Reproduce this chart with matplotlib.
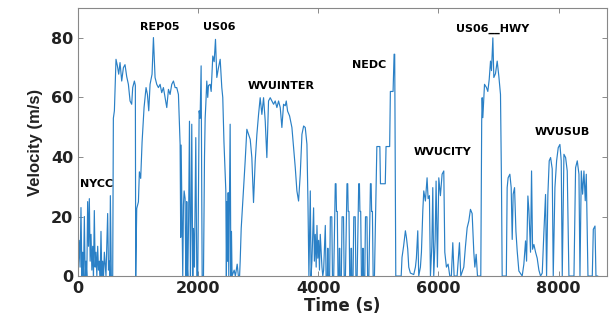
import numpy as np
import matplotlib.pyplot as plt

# drive cycle traces, (time s, velocity) vertices per cycle
nycc_t = [0, 20, 35, 50, 65, 78, 92, 106, 120, 133, 147, 161, 175, 189, 203, 217, 231, 245, 258,
          272, 286, 300, 314, 328, 342, 356, 370, 383, 397, 411, 425, 439, 466, 494, 508, 522, 530,
          539, 555, 578]
nycc_v = [0, 12, 3, 23, 0, 8, 0, 20, 0, 5, 0, 25, 10, 26, 5, 14, 2, 10, 0,
          22, 3, 8, 0, 10, 2, 5, 0, 15, 0, 5, 0, 8, 0, 21, 2, 5, 0,
          27, 0, 0]

rep05_t = [589, 606, 633, 656, 678, 700, 728, 756, 783, 811, 839, 867, 894, 911, 939, 955, 961,
           978, 1006, 1022, 1044, 1067, 1100, 1133, 1156, 1178, 1200, 1233, 1256, 1283, 1311, 1339,
           1367, 1394, 1422, 1450, 1478, 1506, 1533, 1561, 1589, 1617, 1644, 1672, 1700, 1710, 1717,
           1744, 1756, 1767, 1783, 1792, 1800, 1811, 1820, 1828, 1842, 1856, 1872, 1883, 1894, 1911,
           1922, 1939, 1961, 1978, 1994, 2017, 2033, 2050, 2067, 2089]
rep05_v = [53, 55.5, 72.8, 70.6, 67.8, 71.7, 65.5, 70, 71, 67, 64.4, 58.8, 57.7, 63.3, 65.5, 64, 0,
           22.7, 24.9, 35, 32.8, 45, 56.6, 63.3, 61, 55.5, 64.4, 67.8, 80.1, 66.7, 64.4, 63.3,
           64.4, 61.6, 63.3, 59.9, 56.6, 62.7, 61, 64.4, 65.5, 63.3, 63.3, 61, 44.3, 13, 44,
           0, 24, 28.6, 26, 6, 0, 25, 3, 0, 20, 52, 0, 18, 51, 0,
           16, 3, 46.5, 0, 0, 55.5, 53, 70.6, 0, 0]

us06_t = [2106, 2117, 2128, 2144, 2160, 2172, 2200, 2217, 2244, 2267, 2289, 2311, 2339, 2367,
          2394, 2410, 2430, 2461, 2470, 2480, 2490, 2500, 2510, 2520, 2533, 2545, 2555, 2565,
          2600, 2620, 2650, 2670, 2690, 2700, 2717, 2744, 2783]
us06_v = [40, 53, 57.7, 65.5, 60, 64, 64.4, 62, 73.9, 72, 79.5, 66.7, 70, 72.8,
          63.3, 60, 45, 28.6, 0, 25, 5, 28, 0, 22, 51, 0, 15, 0,
          2, 0, 4, 0, 0, 5, 16, 25, 38.6]

wvuinter_t = [2811, 2839, 2867, 2894, 2922, 2950, 2978, 3006, 3033, 3061, 3089, 3117, 3144, 3172,
              3200, 3228, 3256, 3283, 3311, 3339, 3367, 3394, 3422, 3450, 3467, 3489, 3522, 3561,
              3589, 3617, 3644, 3672, 3700, 3728, 3756, 3783, 3811, 3828, 3844, 3867, 3880, 3894,
              3922, 3935, 3950, 3965, 3978, 3992, 4006, 4020, 4033, 4061, 4075, 4089, 4117, 4130,
              4151]
wvuinter_v = [49.3, 47.6, 45.9, 39.8, 24.7, 38.6, 47.6, 54.3, 59.9, 54.3, 59.9, 52, 39.8, 58.8,
              59.9, 58.8, 57.7, 58.8, 56.6, 58.8, 56.6, 49.9, 57.7, 57.2, 58.8, 55.4, 53.8, 49.9,
              43.2, 36.4, 28.6, 25.2, 34.2, 47.6, 50.4, 49.9, 44.3, 25, 0, 28.6, 0, 5,
              22.9, 5, 14, 3, 17, 6, 12, 2, 14, 3, 0, 2, 17, 0,
              0]

nedc_t = [4155, 4163, 4168, 4189, 4201, 4225, 4236, 4257, 4283, 4295, 4303, 4316, 4328,
          4346, 4350, 4358, 4363, 4384, 4396, 4420, 4431, 4452, 4478, 4490, 4498, 4511, 4523,
          4541, 4545, 4553, 4558, 4579, 4591, 4615, 4626, 4647, 4673, 4685, 4693, 4706, 4718,
          4736, 4740, 4748, 4753, 4774, 4786, 4810, 4821, 4842, 4868, 4880, 4888, 4901, 4913,
          4935, 4975, 5025, 5035, 5115, 5128, 5188, 5200, 5245, 5262, 5272, 5290]
nedc_v = [9.3, 9.3, 0, 0, 19.9, 19.9, 0, 0, 31, 31, 21.7, 21.7, 0,
          0, 9.3, 9.3, 0, 0, 19.9, 19.9, 0, 0, 31, 31, 21.7, 21.7, 0,
          0, 9.3, 9.3, 0, 0, 19.9, 19.9, 0, 0, 31, 31, 21.7, 21.7, 0,
          0, 9.3, 9.3, 0, 0, 19.9, 19.9, 0, 0, 31, 31, 21.7, 21.7, 0,
          0, 43.5, 43.5, 31, 31, 43.5, 43.5, 62, 62, 74.5, 74.5, 0]

wvucity_t = [5311, 5380, 5394, 5420, 5450, 5467, 5489, 5506, 5533, 5589, 5617, 5633, 5656, 5672,
             5700, 5717, 5740, 5756, 5783, 5800, 5811, 5828, 5850, 5867, 5890, 5906, 5922, 5945,
             5961, 5983, 6006, 6033, 6061, 6089, 6106, 6133, 6161, 6189, 6215, 6239, 6261, 6311,
             6350, 6372, 6422, 6450, 6478, 6506, 6533, 6561, 6589, 6606, 6628, 6650, 6705]
wvucity_v = [0, 0, 6.3, 10, 15.2, 13, 9, 3, 1, 0.5, 3, 6, 15.2, 0,
             3, 8, 22, 28.6, 25.2, 30, 33, 26, 27, 0, 10, 29.7, 0, 12,
             31.9, 3, 33, 27, 34.2, 35.3, 8, 3, 4, 0, 0, 11.2, 0, 0,
             11.2, 0, 3, 10, 16.2, 18.5, 22.4, 21, 8, 3, 7.3, 0, 0]

hwy_t = [6720, 6728, 6739, 6767, 6800, 6822, 6845, 6867, 6883, 6906, 6922, 6950, 6978, 7006,
         7033, 7050, 7061]
hwy_v = [52, 59.9, 53.2, 64.4, 63.3, 62, 66, 72.2, 69, 80, 66.7, 68, 72.2, 67,
         61, 30, 0]

wvusub_t = [7130, 7144, 7160, 7189, 7211, 7228, 7244, 7267, 7290, 7311, 7339, 7394, 7422, 7450,
            7467, 7489, 7506, 7533, 7550, 7567, 7589, 7617, 7644, 7672, 7700, 7728, 7756, 7783,
            7800, 7822, 7844, 7867, 7894, 7911, 7939, 7967, 7994, 8022, 8044, 8061, 8089, 8117,
            8144, 8172, 8256, 8283, 8311, 8339, 8356, 8378, 8400, 8422, 8444, 8461, 8489, 8561,
            8578, 8606, 8622, 8650]
wvusub_v = [0, 29.7, 33, 34.2, 29.7, 12.3, 27.5, 29.7, 15, 8.4, 1.7, 0, 4, 11.8,
            5, 26.9, 22, 8, 35.3, 9, 10.6, 8, 6, 2, 0, 1, 15, 27.4,
            0, 27.5, 38.7, 39.8, 36, 0, 29.7, 38.7, 43.1, 44.2, 38.7, 0, 40.9, 39.8,
            35.3, 0, 0, 36.4, 38.7, 34.2, 0, 35.3, 27.5, 35.3, 25.3, 34.2, 0, 0,
            15.7, 16.8, 0, 0]

cycle_labels = ["NYCC", "REP05", "US06", "WVUINTER", "NEDC", "WVUCITY", "US06__HWY", "WVUSUB"]
label_t = [35, 1030, 2080, 2830, 4560, 5580, 6300, 7600]
label_v = [31, 83.5, 83.5, 64, 71, 41.5, 83, 48.5]

time_s = np.concatenate([nycc_t, rep05_t, us06_t, wvuinter_t, nedc_t, wvucity_t, hwy_t, wvusub_t])
velocity = np.concatenate([nycc_v, rep05_v, us06_v, wvuinter_v, nedc_v, wvucity_v, hwy_v, wvusub_v])

fig = plt.figure(figsize=(6.14, 3.24), dpi=100)
ax = fig.add_axes([0.127, 0.148, 0.862, 0.827])

ax.plot(time_s, velocity, color='#2a80c6', linewidth=0.85)

for name, tx, vy in zip(cycle_labels, label_t, label_v):
    ax.text(tx, vy, name, fontsize=8, fontweight='bold', family='DejaVu Sans',
            ha='left', va='center', color='black')

ax.set_xlim(0, 8810)
ax.set_ylim(0, 90)
ax.set_xticks([0, 2000, 4000, 6000, 8000])
ax.set_yticks([0, 20, 40, 60, 80])
ax.tick_params(direction='in', length=3.5, width=0.6, top=True, right=True,
               labelsize=11.5, colors='#777777', labelcolor='#222222')
for lab in ax.get_xticklabels() + ax.get_yticklabels():
    lab.set_fontweight('bold')
for sp in ax.spines.values():
    sp.set_color('#888888')
    sp.set_linewidth(0.8)

ax.set_xlabel('Time (s)', fontsize=12, fontweight='bold', color='#222222', labelpad=1)
ax.set_ylabel('Velocity (m/s)', fontsize=12, family='Liberation Sans', fontweight='bold',
              color='#222222', labelpad=6)

fig.savefig('out.png', dpi=100)
